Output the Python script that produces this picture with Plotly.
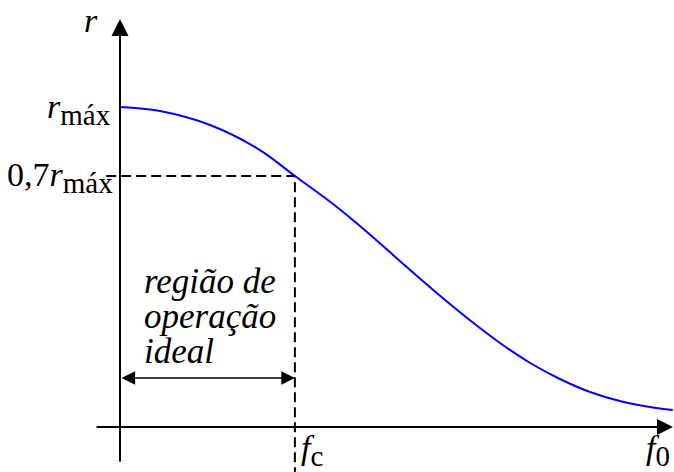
import numpy as np
import plotly.graph_objects as go

# Response curve r(f), normalised to r_max (frequency normalised to f_0)
F = [0.0, 0.0755, 0.170, 0.264, 0.330, 0.402, 0.466, 0.528, 0.591, 0.655,
     0.717, 0.774, 0.830, 0.887, 0.943, 1.0, 1.043]
R = [1.0, 0.9795, 0.9110, 0.8005, 0.7000, 0.6056, 0.5241, 0.4511, 0.3882,
     0.3360, 0.2953, 0.2662, 0.2451, 0.2291, 0.2187, 0.2121, 0.2088]

F_C = 0.33      # cut-off frequency
F_0 = 1.0       # resonance frequency
R_MAX = 1.0
R_CUT = 0.7     # 0,7 r_max

CAPTION = ["região de", "operação", "ideal"]

W, H = 674, 472
SERIF = "Liberation Serif, Times New Roman, serif"
BLACK = "#000000"
BLUE = "#0000ff"


def px_x(p):
    return p / W


def px_y(p):
    return 1 - p / H


def with_sub(main, sub, size=29):
    return f"{main}<sub><span style='font-size:{size}px'>{sub}</span></sub>"


fig = go.Figure()

# guide lines at 0,7 r_max and f_c
fig.add_trace(go.Scatter(
    x=[-0.026, F_C, F_C], y=[R_CUT, R_CUT, 0.15],
    mode="lines", line=dict(color=BLACK, width=2, dash="10px,5px"),
    hoverinfo="skip", showlegend=False))

# response curve
fig.add_trace(go.Scatter(
    x=F, y=R, mode="lines",
    line=dict(color=BLUE, width=2, shape="spline", smoothing=1.0),
    showlegend=False))

annotations = []

# axes drawn as arrows
annotations.append(dict(
    x=px_x(673), y=px_y(427), xref="paper", yref="paper",
    ax=-578, ay=0, axref="pixel", ayref="pixel", text="",
    showarrow=True, arrowhead=2, arrowsize=1.6, arrowwidth=2,
    arrowcolor=BLACK, standoff=0))
annotations.append(dict(
    x=0, y=px_y(19), xref="x", yref="paper",
    ax=0, ay=444, text="",
    showarrow=True, arrowhead=2, arrowsize=1.7, arrowwidth=2,
    arrowcolor=BLACK, standoff=0))

# operating-region double arrow from 0 to f_c
annotations.append(dict(
    x=F_C, y=px_y(378), xref="x", yref="paper",
    ax=0, ay=0, axref="x", ayref="pixel", text="",
    showarrow=True, arrowhead=2, startarrowhead=2, arrowside="end+start",
    arrowsize=1.7, startarrowsize=1.7, arrowwidth=1.6,
    arrowcolor=BLACK, standoff=0, startstandoff=0))

font = dict(family=SERIF, size=34, color=BLACK)

# axis names
annotations.append(dict(
    x=px_x(91), y=px_y(20), xref="paper", yref="paper",
    text="<i>r</i>", showarrow=False, font=font,
    xanchor="center", yanchor="middle"))
annotations.append(dict(
    x=F_C, y=px_y(450), xref="x", yref="paper", xshift=4,
    text=with_sub("<i>f</i>", "c"), showarrow=False, font=font,
    xanchor="left", yanchor="middle"))
annotations.append(dict(
    x=F_0, y=px_y(450), xref="x", yref="paper", xshift=-6,
    text=with_sub("<i>f</i>", "0"), showarrow=False, font=font,
    xanchor="left", yanchor="middle"))

# level labels
annotations.append(dict(
    x=px_x(113), y=np.log10(R_MAX), xref="paper", yref="y", yshift=-2,
    text=with_sub("<i>r</i>", "máx"), showarrow=False, font=font,
    xanchor="right", yanchor="middle"))
annotations.append(dict(
    x=px_x(115), y=np.log10(R_CUT), xref="paper", yref="y", yshift=-2,
    text=with_sub("0,7<i>r</i>", "máx"), showarrow=False, font=font,
    xanchor="right", yanchor="middle"))

# region caption: large glyphs on a tight line pitch (pitch = 1.3 x base size)
caption_text = "<br>".join(
    f"<span style='font-size:35px'><i>{line}</i></span>" for line in CAPTION)
annotations.append(dict(
    x=px_x(142), y=px_y(316), xref="paper", yref="paper",
    text=caption_text, showarrow=False,
    font=dict(family=SERIF, size=27, color=BLACK),
    xanchor="left", yanchor="middle", align="left"))

fig.update_layout(
    width=W, height=H,
    margin=dict(l=0, r=0, t=0, b=0),
    paper_bgcolor="white", plot_bgcolor="white",
    xaxis=dict(visible=False, range=[-120 / 530, 554 / 530]),
    yaxis=dict(visible=False, type="log", range=[-365 / 445.4, 107 / 445.4]),
    annotations=annotations,
)

fig.write_html("out.html")
